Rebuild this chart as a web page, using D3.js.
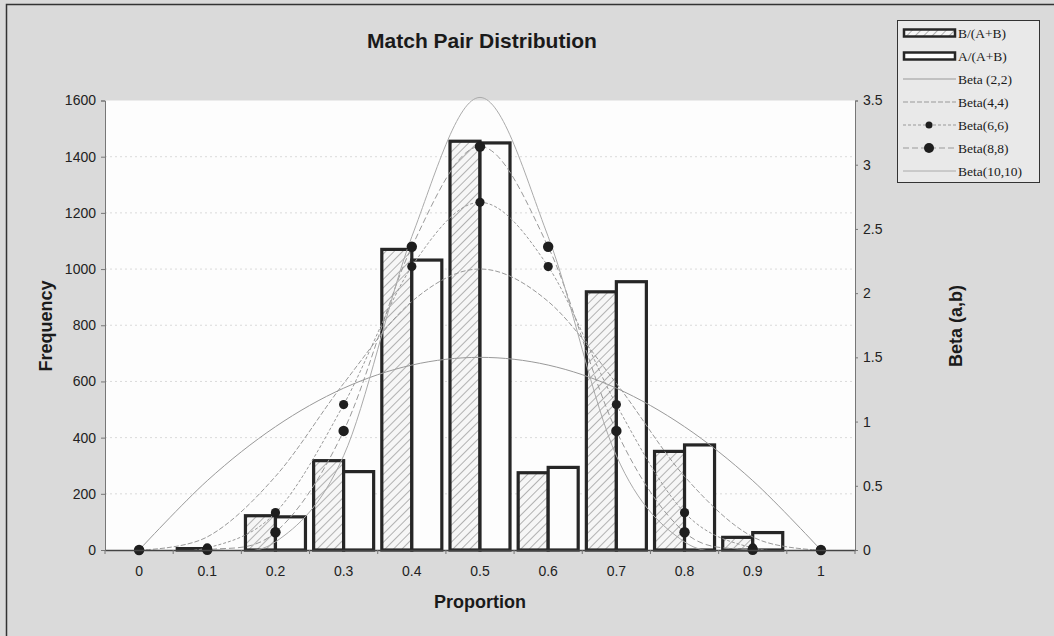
<!DOCTYPE html>
<html>
<head>
<meta charset="utf-8">
<script src="https://cdn.jsdelivr.net/npm/d3@7"></script>
<style>
  html, body { margin: 0; padding: 0; background: #dadada; }
  svg { display: block; }
</style>
</head>
<body>
<svg id="chart" width="1054" height="636"></svg>
<script>
// Category labels (proportion bins)
const categories = ["0", "0.1", "0.2", "0.3", "0.4", "0.5", "0.6", "0.7", "0.8", "0.9", "1"];

// Observed frequencies per bin
const freqB = [0, 5, 122, 318, 1070, 1455, 275, 919, 351, 45, 0];   // B/(A+B)
const freqA = [0, 0, 118, 279, 1032, 1449, 294, 955, 374, 62, 0];   // A/(A+B)

// Beta(a,b) densities at each bin
const beta22   = [0, 0.54, 0.96, 1.26, 1.44, 1.5, 1.44, 1.26, 0.96, 0.54, 0];
const beta44   = [0, 0.102, 0.573, 1.297, 1.935, 2.188, 1.935, 1.297, 0.573, 0.102, 0];
const beta66   = [0, 0.016, 0.291, 1.132, 2.207, 2.707, 2.207, 1.132, 0.291, 0.016, 0];
const beta88   = [0, 0.002, 0.138, 0.927, 2.361, 3.142, 2.361, 0.927, 0.138, 0.002, 0];
const beta1010 = [0, 0.0004, 0.063, 0.734, 2.440, 3.524, 2.440, 0.734, 0.063, 0.0004, 0];

// Axis ticks
const freqTicks = [0, 200, 400, 600, 800, 1000, 1200, 1400, 1600];
const betaTicks = [0, 0.5, 1, 1.5, 2, 2.5, 3, 3.5];

const svg = d3.select("#chart");
const W = 1054, H = 636;
const plot = { left: 105, right: 855, top: 100.5, bottom: 550 };

// Chart area frame
svg.append("rect").attr("x", 0).attr("y", 0).attr("width", W).attr("height", H).attr("fill", "#dadada");
svg.append("rect").attr("x", 6.5).attr("y", 4.5).attr("width", W + 20).attr("height", H + 20)
  .attr("fill", "none").attr("stroke", "#333").attr("stroke-width", 1.5);

// Plot area
svg.append("rect")
  .attr("x", plot.left).attr("y", plot.top)
  .attr("width", plot.right - plot.left).attr("height", plot.bottom - plot.top)
  .attr("fill", "#fdfdfd");

// Scales
const x = d3.scaleBand().domain(categories).range([plot.left, plot.right]).paddingInner(0).paddingOuter(0);
const xs = d3.scaleBand().domain(["B", "A"]).range([0, x.bandwidth()]).paddingInner(0).paddingOuter(0.136);
const yF = d3.scaleLinear().domain([0, 1600]).range([plot.bottom, plot.top]);
const yB = d3.scaleLinear().domain([0, 3.5]).range([plot.bottom, plot.top]);

// Hatch pattern for B/(A+B)
const defs = svg.append("defs");
const pat = defs.append("pattern").attr("id", "hatch")
  .attr("patternUnits", "userSpaceOnUse").attr("width", 6).attr("height", 6)
  .attr("patternTransform", "rotate(45)");
pat.append("rect").attr("width", 6).attr("height", 6).attr("fill", "#f6f6f6");
pat.append("line").attr("x1", 0).attr("y1", 0).attr("x2", 0).attr("y2", 6)
  .attr("stroke", "#777").attr("stroke-width", 1.1);

defs.append("clipPath").attr("id", "plotClip").append("rect")
  .attr("x", plot.left).attr("y", plot.top - 4)
  .attr("width", plot.right - plot.left).attr("height", plot.bottom - plot.top + 4);

// Gridlines
svg.append("g").selectAll("line").data(freqTicks.slice(1, -1)).join("line")
  .attr("x1", plot.left).attr("x2", plot.right)
  .attr("y1", d => yF(d)).attr("y2", d => yF(d))
  .attr("stroke", "#dadada").attr("stroke-width", 1).attr("stroke-dasharray", "2,3");

// Bars
const barData = [];
categories.forEach((c, i) => {
  barData.push({ cat: c, key: "B", v: freqB[i] });
  barData.push({ cat: c, key: "A", v: freqA[i] });
});
svg.append("g").selectAll("rect").data(barData.filter(d => d.v > 0)).join("rect")
  .attr("x", d => x(d.cat) + xs(d.key))
  .attr("y", d => yF(d.v))
  .attr("width", xs.bandwidth())
  .attr("height", d => yF(0) - yF(d.v))
  .attr("fill", d => d.key === "B" ? "url(#hatch)" : "#fdfdfd")
  .attr("stroke", "#262626").attr("stroke-width", 3.2);

// Beta curves
const cx = c => x(c) + x.bandwidth() / 2;
const series = [
  { name: "Beta (2,2)",  vals: beta22,   dash: null,  color: "#999", r: 0 },
  { name: "Beta(4,4)",   vals: beta44,   dash: "5,2", color: "#999", r: 0 },
  { name: "Beta(6,6)",   vals: beta66,   dash: "3,2", color: "#999", r: 4.6, lr: 3.5 },
  { name: "Beta(8,8)",   vals: beta88,   dash: "6,3", color: "#999", r: 5.2, lr: 5 },
  { name: "Beta(10,10)", vals: beta1010, dash: null,  color: "#aaa", r: 0 }
];
const line = d3.line().x(d => cx(d.c)).y(d => yB(d.v)).curve(d3.curveCatmullRom.alpha(0));
const curves = svg.append("g").attr("clip-path", "url(#plotClip)");
series.forEach(s => {
  const pts = categories.map((c, i) => ({ c, v: s.vals[i] }));
  curves.append("path").datum(pts)
    .attr("d", line).attr("fill", "none")
    .attr("stroke", s.color).attr("stroke-width", 1)
    .attr("stroke-dasharray", s.dash);
});
series.filter(s => s.r > 0).forEach(s => {
  svg.append("g").selectAll("circle").data(categories.map((c, i) => ({ c, v: s.vals[i] }))).join("circle")
    .attr("cx", d => cx(d.c)).attr("cy", d => yB(d.v)).attr("r", s.r)
    .attr("fill", "#1e1e1e");
});

// Axes
const font = "Arial, 'Liberation Sans', sans-serif";
const axisL = svg.append("g").attr("transform", `translate(${plot.left},0)`)
  .call(d3.axisLeft(yF).tickValues(freqTicks).tickFormat(d3.format("d")).tickSize(4).tickPadding(5));
const axisR = svg.append("g").attr("transform", `translate(${plot.right},0)`)
  .call(d3.axisRight(yB).tickValues(betaTicks).tickSize(3).tickFormat(d3.format("")).tickPadding(5));
const axisB = svg.append("g").attr("transform", `translate(0,${plot.bottom})`)
  .call(d3.axisBottom(x).tickSize(0).tickPadding(16));
// Tick marks between categories
svg.append("g").selectAll("line").data(d3.range(categories.length + 1)).join("line")
  .attr("x1", i => plot.left + i * x.step()).attr("x2", i => plot.left + i * x.step())
  .attr("y1", plot.bottom).attr("y2", plot.bottom + 4)
  .attr("stroke", "#777");

[axisL, axisR, axisB].forEach(a => {
  a.select(".domain").attr("stroke", "#777").attr("stroke-width", 1);
  a.selectAll(".tick line").attr("stroke", "#777");
  a.selectAll("text").attr("font-family", font).attr("font-size", 14).attr("fill", "#222");
});
axisB.select(".domain").attr("stroke", "#444").attr("stroke-width", 1.5);

// Titles
svg.append("text").attr("x", 482).attr("y", 48).attr("text-anchor", "middle")
  .attr("font-family", font).attr("font-weight", "bold").attr("font-size", 21).attr("fill", "#1a1a1a")
  .text("Match Pair Distribution");
svg.append("text").attr("x", 480).attr("y", 608).attr("text-anchor", "middle")
  .attr("font-family", font).attr("font-weight", "bold").attr("font-size", 18).attr("fill", "#1a1a1a")
  .text("Proportion");
svg.append("text").attr("transform", "translate(52,326) rotate(-90)").attr("text-anchor", "middle")
  .attr("font-family", font).attr("font-weight", "bold").attr("font-size", 18).attr("fill", "#1a1a1a")
  .text("Frequency");
svg.append("text").attr("transform", "translate(962,326) rotate(-90)").attr("text-anchor", "middle")
  .attr("font-family", font).attr("font-weight", "bold").attr("font-size", 18).attr("fill", "#1a1a1a")
  .text("Beta (a,b)");

// Legend
const lg = svg.append("g");
lg.append("rect").attr("x", 897.5).attr("y", 20.5).attr("width", 142).attr("height", 162)
  .attr("fill", "#e9e9e9").attr("stroke", "#333").attr("stroke-width", 1);
const legendItems = [
  { label: "B/(A+B)", type: "bar", fill: "url(#hatch)" },
  { label: "A/(A+B)", type: "bar", fill: "#fdfdfd" },
  ...series.map(s => ({ label: s.name, type: "line", s }))
];
legendItems.forEach((it, i) => {
  const yy = 33 + i * 23;
  if (it.type === "bar") {
    lg.append("rect").attr("x", 904).attr("y", yy - 3.5).attr("width", 51).attr("height", 7)
      .attr("fill", it.fill).attr("stroke", "#262626").attr("stroke-width", 2.5);
  } else {
    lg.append("line").attr("x1", 903).attr("x2", 956).attr("y1", yy).attr("y2", yy)
      .attr("stroke", it.s.color).attr("stroke-width", 1).attr("stroke-dasharray", it.s.dash);
    if (it.s.r > 0) {
      lg.append("circle").attr("cx", 929).attr("cy", yy).attr("r", it.s.lr).attr("fill", "#1e1e1e");
    }
  }
  lg.append("text").attr("x", 958).attr("y", yy + 4.5)
    .attr("font-family", "'Liberation Serif', 'Times New Roman', serif").attr("font-size", 13.5)
    .attr("fill", "#1a1a1a").text(it.label);
});
</script>
</body>
</html>
